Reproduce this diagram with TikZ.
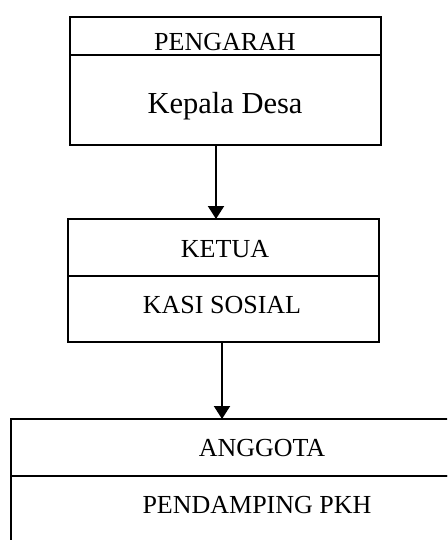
\documentclass[tikz,border=0pt]{standalone}
\usepackage{fontspec}
\setmainfont{Liberation Serif}
\usetikzlibrary{arrows.meta,calc}
\begin{document}
\begin{tikzpicture}[x=1pt,y=-1pt,
  sect/.style={draw,line width=2pt,rectangle,inner sep=0pt,outer sep=0pt,anchor=north west},
  lab/.style={anchor=base,inner sep=0pt,font=\fontsize{26}{30}\selectfont},
  labbig/.style={anchor=base,inner sep=0pt,font=\fontsize{30.5}{34}\selectfont},
  conn/.style={line width=2pt,-{Triangle[length=13pt,width=16pt]}}]
\useasboundingbox (0,0) rectangle (447,540);
\clip (0,0) rectangle (447,540);
% box 1
\node[sect,minimum width=311pt,minimum height=38pt] (b1a) at (70,17) {};
\node[sect,minimum width=311pt,minimum height=90pt] (b1b) at (70,55) {};
% box 2
\node[sect,minimum width=311pt,minimum height=57pt] (b2a) at (68,219) {};
\node[sect,minimum width=311pt,minimum height=66pt] (b2b) at (68,276) {};
% box 3
\node[sect,minimum width=502pt,minimum height=57pt] (b3a) at (11,419) {};
\node[sect,minimum width=502pt,minimum height=66pt] (b3b) at (11,476) {};
% texts
\node[lab] (t1a) at (225,51) {PENGARAH};
\node[labbig] (t1b) at (225,114) {Kepala Desa};
\node[lab] (t2a) at (225,257) {KETUA};
\node[lab] (t2b) at (222,313) {KASI SOSIAL};
\node[lab] (t3a) at (262,456) {ANGGOTA};
\node[lab] (t3b) at (257,513) {PENDAMPING PKH};
% connectors
\coordinate (s1) at ($(b1b.south)+(-9.5,0)$);
\coordinate (s2) at ($(b2b.south)+(-1.5,0)$);
\draw[conn] (s1) -- (s1 |- b2a.north);
\draw[conn] (s2) -- (s2 |- b3a.north);
\end{tikzpicture}
\end{document}
